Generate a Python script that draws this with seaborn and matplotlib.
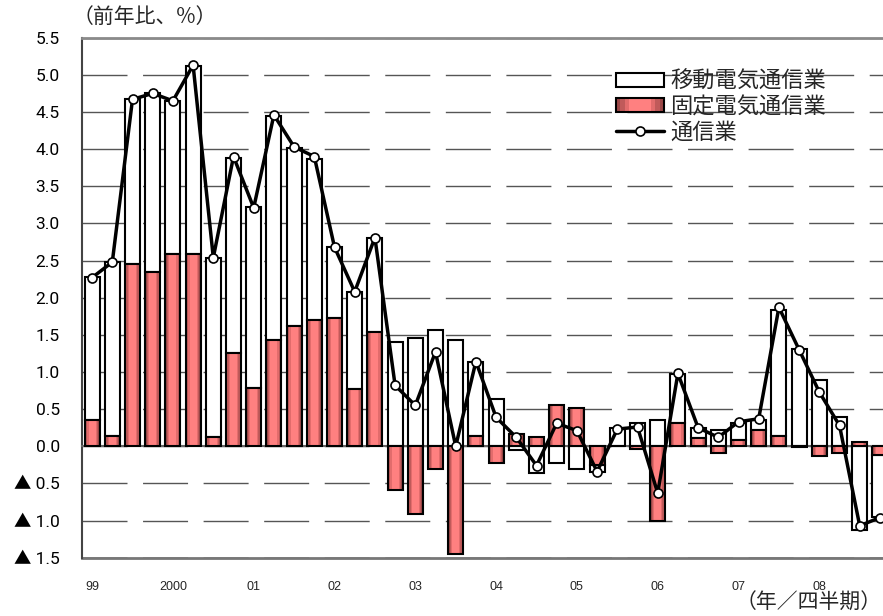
import numpy as np
import pandas as pd
import matplotlib
matplotlib.use("Agg")
import matplotlib.pyplot as plt
import seaborn as sns
from matplotlib import font_manager as fm
from matplotlib.ft2font import FT2Font
from matplotlib.patches import Rectangle
from matplotlib.lines import Line2D
from matplotlib.legend_handler import HandlerBase

# ---------------- data ----------------
quarters = [f"{y}Q{q}" for y in range(1999, 2009) for q in range(1, 5)]
year_labels = ["99", "2000", "01", "02", "03", "04", "05", "06", "07", "08"]

fixed = [0.36, 0.14, 2.45, 2.35, 2.59, 2.59, 0.12, 1.25, 0.79, 1.43,
         1.62, 1.70, 1.73, 0.77, 1.54, -0.59, -0.91, -0.31, -1.45, 0.14,
         -0.23, 0.16, 0.12, 0.55, 0.52, -0.25, 0.00, -0.04, -1.01, 0.32,
         0.11, -0.09, 0.08, 0.22, 0.14, -0.01, -0.13, -0.09, 0.06, -0.12]
mobile = [1.92, 2.34, 2.22, 2.40, 2.06, 2.53, 2.42, 2.63, 2.43, 3.02,
          2.40, 2.17, 0.95, 1.31, 1.27, 1.41, 1.46, 1.57, 1.43, 1.00,
          0.63, -0.05, -0.36, -0.23, -0.31, -0.09, 0.24, 0.31, 0.36, 0.65,
          0.14, 0.22, 0.24, 0.14, 1.69, 1.31, 0.89, 0.39, -1.13, -0.83]
total = [2.27, 2.48, 4.67, 4.75, 4.65, 5.13, 2.54, 3.90, 3.21, 4.46,
         4.03, 3.90, 2.68, 2.08, 2.81, 0.82, 0.55, 1.27, 0.00, 1.14,
         0.39, 0.12, -0.26, 0.31, 0.21, -0.34, 0.23, 0.26, -0.63, 0.98,
         0.25, 0.12, 0.33, 0.37, 1.87, 1.30, 0.73, 0.28, -1.07, -0.96]

y_ticks = [-1.5, -1.0, -0.5, 0.0, 0.5, 1.0, 1.5, 2.0, 2.5, 3.0, 3.5, 4.0, 4.5, 5.0, 5.5]
y_ticklabels = ["▲ 1.5", "▲ 1.0", "▲ 0.5", "0.0", "0.5", "1.0", "1.5", "2.0", "2.5",
                "3.0", "3.5", "4.0", "4.5", "5.0", "5.5"]
legend_labels = ["移動電気通信業", "固定電気通信業", "通信業"]

df = pd.DataFrame({"pos": np.arange(len(quarters)), "quarter": quarters,
                   "fixed": fixed, "mobile": mobile, "total": total})
fx = np.array(fixed)
mb = np.array(mobile)
white_bottom = np.where(np.sign(mb) == np.sign(fx), fx, 0.0)

# ---------------- style ----------------
sns.set_theme(style="white")
plt.rcParams["font.family"] = ["Liberation Sans", "DejaVu Sans"]
CJK = ["Noto Sans CJK JP", "DejaVu Sans"]


def lacks_glyph(fam, ch):
    try:
        path = fm.findfont(fm.FontProperties(family=fam), fallback_to_default=False)
        return FT2Font(path).get_char_index(ord(ch)) == 0
    except Exception:
        return False


digit_fam = next((f for f in ["Roboto", "Noto Sans", "Lato", "Open Sans"]
                  if lacks_glyph(f, "▲")), None)
TICK_FAM = [digit_fam, "Noto Sans CJK JP"] if digit_fam else ["DejaVu Sans"]

RED_FRACS = [1.0, 0.82, 0.64, 0.46]
RED_COLS = ["#9C4848", "#C05A5A", "#E26C6C", "#FF8080"]
BAR_W = 0.74
EDGE_LW = 1.5

W, H = 883, 616
fig = plt.figure(figsize=(W / 100, H / 100), dpi=100)
ax = fig.add_axes([82 / W, (H - 557.7) / H, (890 - 82) / W, (557.7 - 37.7) / H])

# white (mobile) bars
sns.barplot(data=df, x="pos", y="mobile", bottom=white_bottom, color="white",
            edgecolor="black", linewidth=EDGE_LW, width=BAR_W, errorbar=None,
            saturation=1, ax=ax, zorder=3)
# red (fixed) bars with a horizontal gradient look
for frac, col in zip(RED_FRACS, RED_COLS):
    sns.barplot(data=df, x="pos", y="fixed", color=col, linewidth=0,
                width=BAR_W * frac, errorbar=None, saturation=1, ax=ax, zorder=3)
sns.barplot(data=df, x="pos", y="fixed", fill=False, color="black",
            linewidth=EDGE_LW, width=BAR_W, errorbar=None, saturation=1,
            ax=ax, zorder=3)
# total line
sns.lineplot(data=df, x="pos", y="total", color="black", linewidth=2.5,
             marker="o", markersize=6.5, markerfacecolor="white",
             markeredgecolor="black", markeredgewidth=1.2, ax=ax, zorder=6,
             legend=False)

# ---------------- axes ----------------
ax.set_xlim(-0.394, 39.41)
ax.set_ylim(-1.5, 5.5)
ax.set_xlabel("")
ax.set_ylabel("")
ax.set_yticks(y_ticks)
ax.set_yticklabels(y_ticklabels, family=TICK_FAM, fontsize=12.5)
ax.tick_params(axis="y", length=0, pad=16, labelcolor="black")
ax.set_xticks(np.arange(-0.5, len(quarters), 1.0))
ax.set_xticklabels([])
ax.tick_params(axis="x", length=5, direction="inout", color="#777777", width=1.2)
ax.spines["bottom"].set_position(("data", 0))
ax.spines["bottom"].set_color("#666666")
ax.spines["bottom"].set_linewidth(1.5)
ax.spines["right"].set_visible(False)
ax.spines["top"].set_color("#8a8a8a")
ax.spines["top"].set_linewidth(2)
ax.spines["left"].set_color("#444444")
ax.spines["left"].set_linewidth(1.5)
ax.grid(False)
ax.yaxis.grid(True, color="#555555", linewidth=1, linestyle=(0, (32.4, 11.2)))
ax.set_axisbelow(True)

sec = ax.secondary_xaxis("bottom")
sec.set_xticks(np.arange(0, len(quarters), 4), year_labels)
sec.tick_params(length=0, pad=17, labelsize=9)
sec.spines["bottom"].set_color("#777777")
sec.spines["bottom"].set_linewidth(2)


class GradHandler(HandlerBase):
    def create_artists(self, legend, orig_handle, xdescent, ydescent, width,
                       height, fontsize, trans):
        arts = []
        for frac, col in zip(RED_FRACS, RED_COLS):
            w = width * frac
            arts.append(Rectangle((-xdescent + (width - w) / 2, -ydescent), w, height,
                                  facecolor=col, edgecolor="none", transform=trans))
        arts.append(Rectangle((-xdescent, -ydescent), width, height, facecolor="none",
                              edgecolor="black", linewidth=EDGE_LW, transform=trans))
        return arts


h_white = Rectangle((0, 0), 1, 1, facecolor="white", edgecolor="black", linewidth=EDGE_LW)
h_red = Rectangle((0, 0), 1, 1, facecolor=RED_COLS[2])
h_line = Line2D([], [], color="black", linewidth=2.5, marker="o", markersize=6.5,
                markerfacecolor="white", markeredgecolor="black", markeredgewidth=1.2)
ax.legend([h_white, h_red, h_line], legend_labels, handler_map={h_red: GradHandler()},
          loc="upper left", bbox_to_anchor=(616 / W, 1 - 70 / H),
          bbox_transform=fig.transFigure, frameon=False,
          prop={"family": CJK, "size": 16}, handlelength=2.16, handleheight=0.585,
          handletextpad=0.27, labelspacing=0.1, borderpad=0, borderaxespad=0)

fig.text(73 / W, 1 - 17 / H, "（前年比、%）", family=CJK, fontsize=15,
         ha="left", va="center")
fig.text(882 / W, 1 - 603 / H, "（年／四半期）", family=CJK, fontsize=15,
         ha="right", va="center")

fig.savefig("out.png", dpi=100)
